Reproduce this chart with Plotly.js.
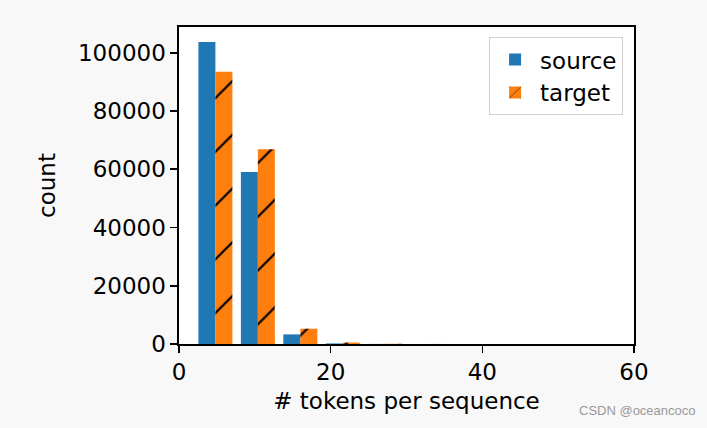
<!DOCTYPE html>
<html>
<head>
<meta charset="utf-8">
<script src="https://cdn.plot.ly/plotly-3.0.1.min.js"></script>
<style>html,body{margin:0;padding:0;background:#f8f8f8;}#chart{width:707px;height:428px;}</style>
</head>
<body>
<div id="chart"></div>
<script>
// Histogram bin centers (bins of width 5.6 from 2 to 58)
const binCenters = [4.8, 10.4, 16.0, 21.6, 27.2, 32.8, 38.4, 44.0, 49.6, 55.2];
const sourceCounts = [103700, 59050, 3300, 200, 30, 10, 5, 2, 0, 1];
const targetCounts = [93450, 66850, 5250, 500, 80, 20, 10, 5, 2, 1];
const seriesNames = ["source", "target"];
const xTicks = [0, 20, 40, 60];
const yTicks = [0, 20000, 40000, 60000, 80000, 100000];

const font = {family: "DejaVu Sans", size: 23, color: "#000"};

const traces = [
  {type: "bar", name: seriesNames[0], x: binCenters, y: sourceCounts,
   marker: {color: "#1f77b4", line: {width: 0}}},
  {type: "bar", name: seriesNames[1], x: binCenters, y: targetCounts,
   marker: {color: "#ff7f0e", line: {width: 0},
     pattern: {shape: "/", fgcolor: "#000", bgcolor: "#ff7f0e", size: 38, solidity: 0.06}}}
];

const axisCommon = {
  showline: true, linecolor: "#000", linewidth: 1.6, mirror: true,
  ticks: "outside", ticklen: 7, tickwidth: 1.6, tickcolor: "#000",
  showgrid: false, zeroline: false, tickfont: font, tickformat: "d"
};

const layout = {
  width: 707, height: 428,
  margin: {l: 179, r: 73, t: 27, b: 84},
  paper_bgcolor: "#f8f8f8", plot_bgcolor: "#fff",
  font: font,
  barmode: "group", bargap: 0.2, bargroupgap: 0,
  xaxis: Object.assign({}, axisCommon, {range: [0, 60], tickvals: xTicks,
    title: {text: "# tokens per sequence", font: font, standoff: 8}}),
  yaxis: Object.assign({}, axisCommon, {range: [0, 108850], tickvals: yTicks,
    title: {text: "count", font: font, standoff: 16}}),
  legend: {x: 0.976, y: 0.968, xanchor: "right", yanchor: "top",
    bgcolor: "#fff", bordercolor: "#d0d0d0", borderwidth: 1, font: font,
    itemwidth: 40},
  showlegend: true,
  annotations: [{text: "CSDN @oceancoco", xref: "paper", yref: "paper",
    x: 1.14, y: -0.21, xanchor: "right", yanchor: "middle", showarrow: false,
    font: {family: "Liberation Sans", size: 13, color: "#999"}}]
};

Plotly.newPlot("chart", traces, layout, {displayModeBar: false, staticPlot: true});
</script>
</body>
</html>
